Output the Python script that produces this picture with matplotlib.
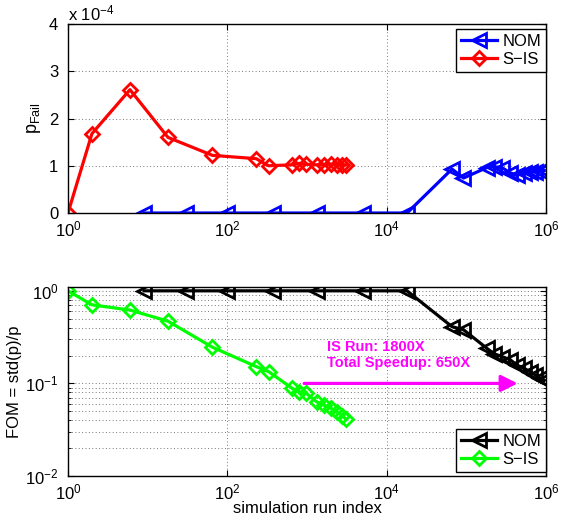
import numpy as np
import matplotlib.pyplot as plt
from matplotlib.ticker import LogLocator, NullLocator, NullFormatter

plt.rcParams['font.family'] = ['Liberation Sans', 'DejaVu Sans']
plt.rcParams['mathtext.fontset'] = 'custom'
plt.rcParams['mathtext.rm'] = 'Liberation Sans'
plt.rcParams['mathtext.it'] = 'Liberation Sans:italic'

# simulation run index for each series
nom_x = [9, 30, 100, 375, 1350, 5000, 18000, 66000, 92000, 180000, 220000,
         280000, 355000, 430000, 525000, 630000, 725000, 850000, 950000]
sis_x = [1, 2, 6, 18, 65, 230, 330, 650, 800, 980, 1330, 1650, 2000, 2370,
         2750, 3100]

# pFail estimates (x 1e-4)
nom_p = [0, 0, 0, 0, 0, 0, 0, 0.93, 0.74, 0.96, 0.98, 0.96, 0.85, 0.80, 0.84,
         0.87, 0.87, 0.88, 0.90]
sis_p = [0, 1.68, 2.61, 1.60, 1.22, 1.15, 1.00, 1.02, 1.05, 1.03, 1.02, 1.02,
         1.03, 1.02, 1.02, 1.02]

# figure of merit std(p)/p
nom_fom = [1, 1, 1, 1, 1, 1, 1, 0.41, 0.38, 0.24, 0.21, 0.195, 0.18, 0.158,
           0.146, 0.134, 0.124, 0.114, 0.108]
sis_fom = [1.0, 0.706, 0.62, 0.47, 0.246, 0.152, 0.134, 0.0886, 0.081, 0.078,
           0.063, 0.058, 0.054, 0.049, 0.045, 0.041]

fig = plt.figure(figsize=(5.76, 5.24), dpi=100)
ax1 = fig.add_axes([0.118, 0.5935, 0.83, 0.3607])
ax2 = fig.add_axes([0.118, 0.0916, 0.83, 0.3607])

lw = 2.3
ms = 9.5
mew = 2.0

ax1.semilogx(nom_x, nom_p, '-', color='#0000ff', marker='<', ms=ms, mew=mew,
             mfc='none', lw=lw, label='NOM')
ax1.semilogx(sis_x, sis_p, '-', color='#ff0000', marker='D', ms=ms - 2,
             mew=mew, mfc='none', lw=lw, label='S\u2212IS')
ax1.set_xlim(1, 1e6)
ax1.set_ylim(0, 4)
ax1.set_yticks([0, 1, 2, 3, 4])
ax1.set_ylabel('p$_{\\mathrm{Fail}}$', fontsize=13, labelpad=4)
ax1.text(0.0, 1.005, 'x 10$^{-4}$', transform=ax1.transAxes, fontsize=12,
         va='bottom', ha='left')
ax1.legend(loc='upper right', bbox_to_anchor=(1.0, 0.975), fancybox=False,
           edgecolor='black', framealpha=1, fontsize=12, borderaxespad=0,
           handlelength=2.2, borderpad=0.3, labelspacing=0.2,
           handletextpad=0.3)

ax2.loglog(nom_x, nom_fom, '-', color='black', marker='<', ms=ms, mew=mew,
           mfc='none', lw=lw, label='NOM')
ax2.loglog(sis_x, sis_fom, '-', color='#00ff00', marker='D', ms=ms - 2,
           mew=mew, mfc='none', lw=lw, label='S\u2212IS')
ax2.set_xlim(1, 1e6)
ax2.set_ylim(0.01, 1.1)
ax2.set_ylabel('FOM = std(p)/p', fontsize=12, labelpad=2)
ax2.set_xlabel('simulation run index', fontsize=12, labelpad=-1)
ax2.yaxis.set_minor_locator(LogLocator(base=10, subs=np.arange(2, 10)))
ax2.yaxis.set_minor_formatter(NullFormatter())
ax2.legend(loc='lower right', bbox_to_anchor=(1.0, 0.02), fancybox=False,
           edgecolor='black', framealpha=1, fontsize=12, borderaxespad=0,
           handlelength=2.2, borderpad=0.3, labelspacing=0.2,
           handletextpad=0.3)

ax2.annotate('', xy=(4.4e5, 0.1), xytext=(920, 0.1),
             arrowprops=dict(arrowstyle='-|>,head_length=1.0,head_width=0.5',
                             color='#ff00ff', lw=2.3, shrinkA=0, shrinkB=0))
ax2.text(1780, 0.246, 'IS Run: 1800X', color='#ff00ff', fontsize=10.5,
         fontweight='bold', va='center', ha='left')
ax2.text(1780, 0.168, 'Total Speedup: 650X', color='#ff00ff', fontsize=10.5,
         fontweight='bold', va='center', ha='left')

for ax in (ax1, ax2):
    ax.set_xticks([1, 1e2, 1e4, 1e6])
    ax.xaxis.set_minor_locator(NullLocator())
    ax.tick_params(which='both', direction='in', top=True, right=True,
                   labelsize=12)
    ax.tick_params(axis='y', which='major', pad=7)
    ax.tick_params(axis='x', which='major', pad=5)
    ax.tick_params(which='major', length=4)
    ax.tick_params(which='minor', length=2.5)
    ax.grid(True, which='major', linestyle=(0, (1, 2.5)), color='#777777',
            lw=0.7)
    for s in ax.spines.values():
        s.set_linewidth(1.0)
ax2.grid(True, which='minor', axis='y', linestyle=(0, (1, 2.5)),
         color='#777777', lw=0.7)

fig.savefig('out.png', dpi=100)
